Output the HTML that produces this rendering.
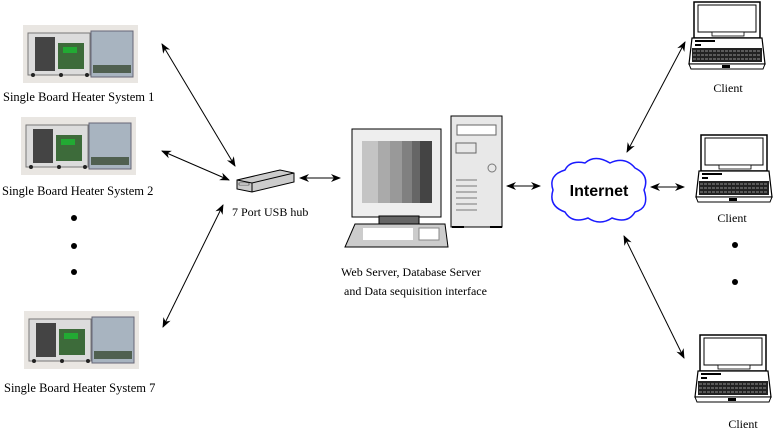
<!DOCTYPE html>
<html><head><meta charset="utf-8"><style>
html,body{margin:0;padding:0;background:#fff}
svg{display:block}
text{font-family:"Liberation Serif",serif;fill:#000}
text.inet{font-family:"Liberation Sans",sans-serif;font-weight:bold}
</style></head><body>
<svg width="778" height="429" viewBox="0 0 778 429" xmlns="http://www.w3.org/2000/svg">
<defs>
<marker id="ah" viewBox="0 0 10 10" refX="9" refY="5" markerWidth="11" markerHeight="10" orient="auto-start-reverse" markerUnits="userSpaceOnUse">
<path d="M0,1 L10,5 L0,9 L3,5 z" fill="#000"/></marker>
<g id="heater">
<rect x="0" y="0" width="115" height="58" fill="#e9e6e2"/>
<rect x="5" y="8" width="62" height="42" fill="#dcdcdc" stroke="#777" stroke-width="1"/>
<rect x="12" y="12" width="20" height="34" fill="#444"/>
<rect x="35" y="18" width="26" height="26" fill="#3d6b3a"/>
<rect x="40" y="22" width="14" height="6" fill="#2a3"/>
<rect x="68" y="6" width="42" height="46" fill="#a8b4c0" stroke="#667" stroke-width="1"/>
<rect x="70" y="40" width="38" height="8" fill="#506050"/>
<circle cx="10" cy="50" r="2" fill="#222"/><circle cx="38" cy="50" r="2" fill="#222"/><circle cx="64" cy="50" r="2" fill="#222"/>
</g>
<g id="laptop">
<path d="M6,2 H72 V38 H6 Z" fill="#fff" stroke="#000" stroke-width="1.5"/>
<rect x="10" y="5" width="58" height="27" fill="#fff" stroke="#000"/>
<rect x="24" y="32" width="32" height="4" fill="#fff" stroke="#000" stroke-width=".8"/>
<path d="M4,38 H74 L77,64 H1 Z" fill="#fff" stroke="#000" stroke-width="1.2"/>
<rect x="7" y="40" width="20" height="2" fill="#000"/>
<rect x="7" y="44" width="6" height="2" fill="#000"/>
<rect x="4" y="48" width="70" height="14" fill="#222"/>
<path d="M5,51 H73 M5,55 H73 M5,59 H73" stroke="#fff" stroke-width=".6" stroke-dasharray="3 1"/>
<path d="M1,64 H77 L75,69 H3 Z" fill="#fff" stroke="#000"/>
<rect x="34" y="65" width="8" height="3" fill="#000"/>
</g>
</defs>

<use href="#heater" x="23" y="25"/>
<use href="#heater" x="21" y="117"/>
<use href="#heater" x="24" y="311"/>
<g font-size="12.5">
<text x="3" y="101">Single Board Heater System 1</text>
<text x="2" y="195">Single Board Heater System 2</text>
<text x="4" y="392">Single Board Heater System 7</text>
</g>
<circle cx="74" cy="218" r="3" fill="#000"/>
<circle cx="74" cy="246" r="3" fill="#000"/>
<circle cx="74" cy="272" r="3" fill="#000"/>

<g stroke="#000" stroke-width="1" fill="none" marker-start="url(#ah)" marker-end="url(#ah)">
<line x1="162" y1="44" x2="235" y2="166"/>
<line x1="162" y1="151" x2="229" y2="180"/>
<line x1="163" y1="327" x2="223" y2="205"/>
<line x1="300" y1="178" x2="340" y2="178"/>
<line x1="507" y1="186" x2="540" y2="186"/>
<line x1="627" y1="152" x2="685" y2="42"/>
<line x1="651" y1="187" x2="684" y2="187"/>
<line x1="624" y1="236" x2="684" y2="358"/>
</g>

<!-- USB hub -->
<path d="M237,180 L280,170 L294,173 L294,182 L252,192 L237,189 Z" fill="#ccc" stroke="#000"/>
<path d="M237,180 L252,183 L294,173 M252,183 V192" fill="none" stroke="#000"/>
<rect x="239" y="183" width="10" height="2" fill="#fff" stroke="#000" stroke-width=".5"/>
<text x="232" y="216" font-size="12">7 Port USB hub</text>

<!-- computer -->
<rect x="352" y="129" width="89" height="88" fill="#eee" stroke="#000"/>
<rect x="362" y="141" width="70" height="62" fill="#888"/>
<rect x="362" y="141" width="16" height="62" fill="#c4c4c4"/>
<rect x="378" y="141" width="12" height="62" fill="#aaa"/>
<rect x="390" y="141" width="12" height="62" fill="#999"/>
<rect x="402" y="141" width="10" height="62" fill="#808080"/>
<rect x="412" y="141" width="8" height="62" fill="#666"/>
<rect x="420" y="141" width="12" height="62" fill="#444"/>
<rect x="379" y="216" width="40" height="8" fill="#666" stroke="#000"/>
<path d="M355,224 H445 L448,247 H345 Z" fill="#ccc" stroke="#000"/>
<rect x="363" y="228" width="50" height="12" fill="#fff"/>
<rect x="419" y="228" width="20" height="12" fill="#fff" stroke="#888"/>
<rect x="451" y="116" width="51" height="111" fill="#e8e8e8" stroke="#000"/>
<rect x="457" y="125" width="39" height="10" fill="#fff" stroke="#666"/>
<rect x="456" y="143" width="20" height="10" fill="none" stroke="#666"/>
<circle cx="492" cy="168" r="4" fill="none" stroke="#777"/>
<g stroke="#777"><line x1="456" y1="180" x2="477" y2="180"/><line x1="456" y1="186" x2="477" y2="186"/><line x1="456" y1="192" x2="477" y2="192"/><line x1="456" y1="198" x2="477" y2="198"/><line x1="456" y1="204" x2="477" y2="204"/><line x1="456" y1="210" x2="477" y2="210"/></g>
<rect x="452" y="226" width="12" height="2" fill="#000"/><rect x="490" y="226" width="12" height="2" fill="#000"/>
<g font-size="12">
<text x="341" y="276">Web Server, Database Server</text>
<text x="344" y="295">and Data sequisition interface</text>
</g>

<!-- cloud -->
<path d="M565,170 Q570,160 585,163 Q595,154 610,163 Q625,156 635,168 Q650,175 644,190 Q650,208 635,212 Q628,224 612,218 Q600,226 588,218 Q572,224 565,212 Q548,206 553,190 Q548,175 565,170 Z" fill="#fff" stroke="#1a1aff" stroke-width="1.5"/>
<text class="inet" x="599" y="196" font-size="16" text-anchor="middle">Internet</text>

<use href="#laptop" x="688" y="0"/>
<use href="#laptop" x="695" y="133"/>
<use href="#laptop" x="694" y="333"/>
<g font-size="12" text-anchor="middle">
<text x="728" y="92">Client</text>
<text x="732" y="222">Client</text>
<text x="743" y="428">Client</text>
</g>
<circle cx="735" cy="245" r="3" fill="#000"/>
<circle cx="735" cy="282" r="3" fill="#000"/>
</svg>
</body></html>
